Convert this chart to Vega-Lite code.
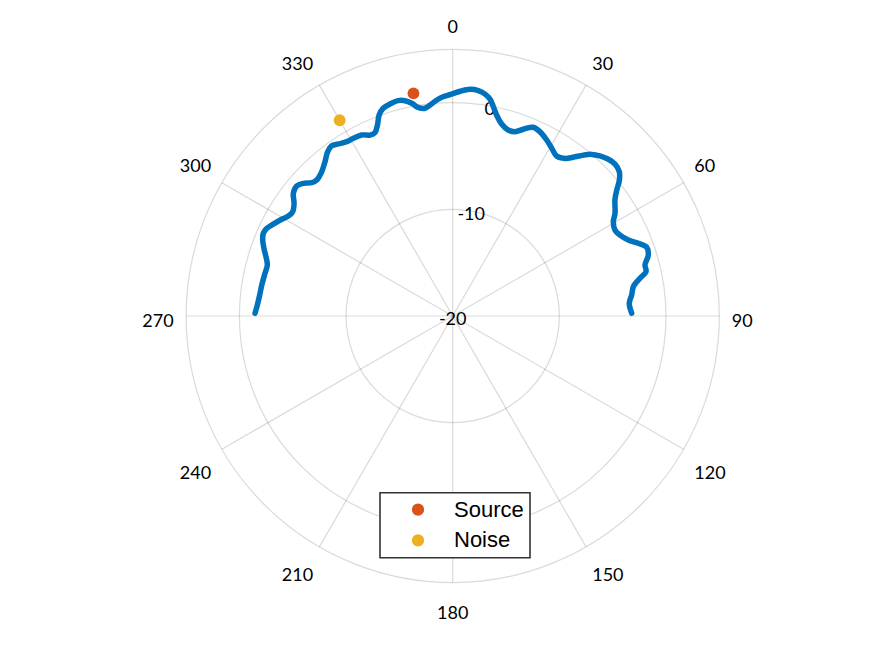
{
  "$schema": "https://vega.github.io/schema/vega-lite/v6.json",
  "width": 533.2,
  "height": 533.2,
  "autosize": {"type": "none"},
  "padding": {"left": 186.1, "top": 49.4, "right": 155.7, "bottom": 73.4},
  "background": "white",
  "config": {
    "view": {"stroke": null},
    "text": {"font": "Lato"},
    "legend": {"strokeWidth": 1.6}
  },
  "datasets": {
    "rings": [{"r": -10}, {"r": 0}, {"r": 5}],
    "diameters": [{"angle": 0}, {"angle": 30}, {"angle": 60}, {"angle": 90}, {"angle": 120}, {"angle": 150}],
    "spokes": [
      {"angle": 0}, {"angle": 30}, {"angle": 60}, {"angle": 90}, {"angle": 120}, {"angle": 150},
      {"angle": 180}, {"angle": 210}, {"angle": 240}, {"angle": 270}, {"angle": 300}, {"angle": 330}
    ],
    "rlabels": [{"r": -20, "label": "-20"}, {"r": -10, "label": "-10"}, {"r": 0, "label": "0"}],
    "pattern": [
      {"theta": -89.2, "r": -1.46}, {"theta": -86.8, "r": -1.65}, {"theta": -83.3, "r": -1.81},
      {"theta": -80.8, "r": -1.86}, {"theta": -77.2, "r": -1.95}, {"theta": -74.6, "r": -1.97},
      {"theta": -72.4, "r": -1.63}, {"theta": -70.3, "r": -1.2}, {"theta": -68.2, "r": -0.81},
      {"theta": -66.4, "r": -0.62}, {"theta": -64.8, "r": -0.72}, {"theta": -62.9, "r": -1.1},
      {"theta": -60.5, "r": -1.58}, {"theta": -58.7, "r": -1.96}, {"theta": -56.9, "r": -2.09},
      {"theta": -54.6, "r": -1.75}, {"theta": -52.4, "r": -1.14}, {"theta": -50.2, "r": -0.96},
      {"theta": -48.4, "r": -1.26}, {"theta": -46.6, "r": -1.81}, {"theta": -45.0, "r": -1.97},
      {"theta": -42.2, "r": -1.72}, {"theta": -39.6, "r": -1.22}, {"theta": -37.3, "r": -0.64},
      {"theta": -35.4, "r": -0.41}, {"theta": -33.6, "r": -0.63}, {"theta": -31.3, "r": -0.87},
      {"theta": -29.2, "r": -0.91}, {"theta": -26.7, "r": -1.0}, {"theta": -24.6, "r": -1.34},
      {"theta": -23.0, "r": -1.33}, {"theta": -21.5, "r": -0.75}, {"theta": -20.1, "r": 0.07},
      {"theta": -18.5, "r": 0.54}, {"theta": -16.5, "r": 0.73}, {"theta": -14.2, "r": 0.83},
      {"theta": -12.5, "r": 0.68}, {"theta": -10.9, "r": 0.31}, {"theta": -9.4, "r": -0.17},
      {"theta": -7.6, "r": -0.35}, {"theta": -6.1, "r": -0.1}, {"theta": -4.2, "r": 0.31},
      {"theta": -2.5, "r": 0.58}, {"theta": -0.5, "r": 0.78}, {"theta": 1.9, "r": 1.09},
      {"theta": 4.4, "r": 1.32}, {"theta": 6.5, "r": 1.27}, {"theta": 8.3, "r": 1.03},
      {"theta": 9.8, "r": 0.62}, {"theta": 11.0, "r": -0.01}, {"theta": 12.3, "r": -0.7},
      {"theta": 14.3, "r": -1.42}, {"theta": 16.6, "r": -1.8}, {"theta": 18.7, "r": -1.76},
      {"theta": 20.7, "r": -1.28}, {"theta": 23.1, "r": -0.76}, {"theta": 25.3, "r": -0.88},
      {"theta": 28.1, "r": -1.29}, {"theta": 30.6, "r": -1.74}, {"theta": 33.0, "r": -2.11},
      {"theta": 35.5, "r": -1.85}, {"theta": 37.2, "r": -1.31}, {"theta": 39.1, "r": -0.56},
      {"theta": 40.7, "r": -0.01}, {"theta": 42.6, "r": 0.39}, {"theta": 44.8, "r": 0.71},
      {"theta": 46.9, "r": 0.85}, {"theta": 49.1, "r": 0.67}, {"theta": 50.8, "r": 0.17},
      {"theta": 52.5, "r": -0.61}, {"theta": 54.4, "r": -1.29}, {"theta": 57.7, "r": -1.99},
      {"theta": 59.6, "r": -2.54}, {"theta": 62.1, "r": -2.78}, {"theta": 64.2, "r": -2.57},
      {"theta": 66.6, "r": -2.06}, {"theta": 68.6, "r": -1.31}, {"theta": 70.5, "r": -0.7},
      {"theta": 72.7, "r": -0.79}, {"theta": 75.1, "r": -1.34}, {"theta": 77.1, "r": -1.4},
      {"theta": 78.6, "r": -2.08}, {"theta": 80.8, "r": -2.84}, {"theta": 83.3, "r": -3.1},
      {"theta": 85.9, "r": -3.4}, {"theta": 89.1, "r": -3.21}
    ],
    "markers": [
      {"name": "Source", "theta": -10, "r": 1.2},
      {"name": "Noise", "theta": -30, "r": 1.2}
    ]
  },
  "layer": [
    {
      "data": {"name": "rings"},
      "transform": [
        {"calculate": "datum.r + 20", "as": "rr"},
        {"calculate": "0", "as": "cx"},
        {"calculate": "0", "as": "cy"}
      ],
      "mark": {"type": "point", "shape": "circle", "filled": false, "color": "#262626", "opacity": 1, "strokeOpacity": 0.17, "strokeWidth": 1.2},
      "encoding": {
        "x": {"field": "cx", "type": "quantitative", "scale": {"domain": [-25, 25], "nice": false, "zero": false}, "axis": null},
        "y": {"field": "cy", "type": "quantitative", "scale": {"domain": [-25, 25], "nice": false, "zero": false}, "axis": null},
        "size": {"field": "rr", "type": "quantitative", "scale": {"type": "pow", "exponent": 2, "domain": [0, 25], "range": [0, 284302]}, "legend": null}
      }
    },
    {
      "data": {"name": "diameters"},
      "transform": [
        {"calculate": "25 * sin(datum.angle * PI / 180)", "as": "sx"},
        {"calculate": "25 * cos(datum.angle * PI / 180)", "as": "sy"},
        {"calculate": "-datum.sx", "as": "ex"},
        {"calculate": "-datum.sy", "as": "ey"}
      ],
      "mark": {"type": "rule", "stroke": "#262626", "strokeOpacity": 0.17, "strokeWidth": 1.2},
      "encoding": {
        "x": {"field": "sx", "type": "quantitative", "scale": {"domain": [-25, 25], "nice": false, "zero": false}, "axis": null},
        "y": {"field": "sy", "type": "quantitative", "scale": {"domain": [-25, 25], "nice": false, "zero": false}, "axis": null},
        "x2": {"field": "ex"},
        "y2": {"field": "ey"}
      }
    },
    {
      "data": {"name": "spokes"},
      "transform": [
        {"calculate": "26.163 * sin(datum.angle * PI / 180)", "as": "lx"},
        {"calculate": "26.163 * cos(datum.angle * PI / 180) - (datum.angle == 90 || datum.angle == 270 ? 10.5 : (datum.angle < 90 || datum.angle > 270 ? -4.2 : 23.5)) / 10.664", "as": "ly"},
        {"calculate": "'' + datum.angle", "as": "label"}
      ],
      "mark": {
        "type": "text",
        "fontSize": 18,
        "align": {"expr": "datum.angle == 0 || datum.angle == 180 ? 'center' : (datum.angle < 180 ? 'left' : 'right')"},
        "baseline": "alphabetic",
        "color": "#000000"
      },
      "encoding": {
        "x": {"field": "lx", "type": "quantitative", "scale": {"domain": [-25, 25], "nice": false, "zero": false}, "axis": null},
        "y": {"field": "ly", "type": "quantitative", "scale": {"domain": [-25, 25], "nice": false, "zero": false}, "axis": null},
        "text": {"field": "label"}
      }
    },
    {
      "data": {"name": "rlabels"},
      "transform": [
        {"calculate": "(datum.r + 20) * sin(10 * PI / 180)", "as": "lx"},
        {"calculate": "(datum.r + 20) * cos(10 * PI / 180)", "as": "ly"}
      ],
      "mark": {"type": "text", "fontSize": 18, "align": "center", "baseline": "middle", "dy": 4, "color": "#000000"},
      "encoding": {
        "x": {"field": "lx", "type": "quantitative", "scale": {"domain": [-25, 25], "nice": false, "zero": false}, "axis": null},
        "y": {"field": "ly", "type": "quantitative", "scale": {"domain": [-25, 25], "nice": false, "zero": false}, "axis": null},
        "text": {"field": "label"}
      }
    },
    {
      "data": {"name": "pattern"},
      "transform": [
        {"calculate": "(datum.r + 20) * sin(datum.theta * PI / 180)", "as": "px"},
        {"calculate": "(datum.r + 20) * cos(datum.theta * PI / 180)", "as": "py"}
      ],
      "mark": {"type": "line", "color": "#0072BD", "strokeWidth": 5.5, "strokeCap": "round", "strokeJoin": "round", "interpolate": "catmull-rom"},
      "encoding": {
        "x": {"field": "px", "type": "quantitative", "scale": {"domain": [-25, 25], "nice": false, "zero": false}, "axis": null},
        "y": {"field": "py", "type": "quantitative", "scale": {"domain": [-25, 25], "nice": false, "zero": false}, "axis": null},
        "order": {"field": "theta", "type": "quantitative"}
      }
    },
    {
      "data": {"name": "markers"},
      "transform": [
        {"calculate": "(datum.r + 20) * sin(datum.theta * PI / 180)", "as": "px"},
        {"calculate": "(datum.r + 20) * cos(datum.theta * PI / 180)", "as": "py"}
      ],
      "mark": {"type": "circle", "size": 140, "opacity": 1},
      "encoding": {
        "x": {"field": "px", "type": "quantitative", "scale": {"domain": [-25, 25], "nice": false, "zero": false}, "axis": null},
        "y": {"field": "py", "type": "quantitative", "scale": {"domain": [-25, 25], "nice": false, "zero": false}, "axis": null},
        "color": {
          "field": "name",
          "type": "nominal",
          "scale": {"domain": ["Source", "Noise"], "range": ["#D95319", "#EDB120"]},
          "legend": {
            "title": null,
            "orient": "none",
            "legendX": 193.9,
            "legendY": 443.3,
            "padding": 6,
            "fillColor": "#ffffff",
            "strokeColor": "#333333",
            "symbolType": "circle",
            "symbolSize": 150,
            "symbolOffset": 21,
            "symbolStrokeWidth": 0,
            "labelOffset": 25,
            "labelFont": "Liberation Sans",
            "labelFontSize": 22,
            "labelColor": "#000000",
            "rowPadding": 8.6
          }
        }
      }
    }
  ]
}
